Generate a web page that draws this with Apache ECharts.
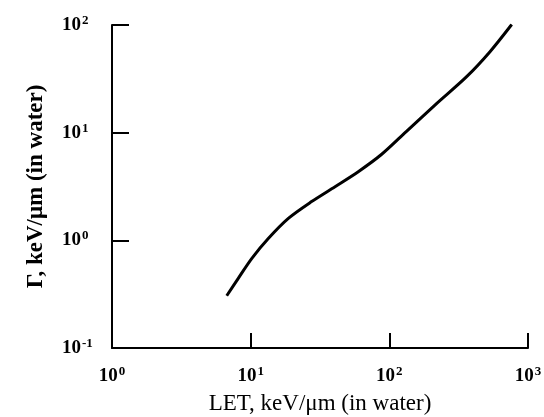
<!DOCTYPE html>
<html>
<head>
<meta charset="utf-8">
<script src="https://cdn.jsdelivr.net/npm/echarts@6/dist/echarts.min.js"></script>
<style>
html, body { margin: 0; padding: 0; background: #fff; }
#main { width: 544px; height: 417px; }
</style>
</head>
<body>
<div id="main"></div>
<script>
var myChart = echarts.init(document.getElementById('main'));

// LET (keV/um) vs Gamma (keV/um)
var letValues = [6.72, 8.14, 10.2, 13.4, 18.7, 27.5, 40.6, 59.7, 88.1, 133, 220, 361, 532, 763];
var gammaValues = [0.306, 0.444, 0.681, 1.04, 1.60, 2.29, 3.15, 4.34, 6.3, 10.3, 18.7, 33.1, 56.5, 101];

var xName = 'LET, keV/\u03bcm (in water)';
var yName = '\u0393, keV/\u03bcm (in water)';

var serif = '"Liberation Serif", "DejaVu Serif", serif';

function powLabel(value) {
    var e = Math.round(Math.log(value) / Math.LN10);
    return '{b|10}{s|' + e + '}';
}

var labelRich = {
    b: { fontFamily: serif, fontSize: 19, fontWeight: 'bold', color: '#000', lineHeight: 22 },
    s: { fontFamily: serif, fontSize: 13, fontWeight: 'bold', color: '#000', verticalAlign: 'top', lineHeight: 22, padding: [0, 0, 10, 1] }
};

option = {
    animation: false,
    backgroundColor: '#fff',
    grid: {
        left: 112,
        right: 16,
        top: 25,
        bottom: 69,
        outerBoundsMode: 'none'
    },
    xAxis: {
        type: 'log',
        logBase: 10,
        min: 1,
        max: 1000,
        name: xName,
        nameLocation: 'middle',
        nameGap: 44,
        nameTextStyle: { fontFamily: serif, fontSize: 23, color: '#000' },
        axisLine: { lineStyle: { color: '#000', width: 2 } },
        axisTick: { inside: true, length: 15, lineStyle: { color: '#000', width: 2 } },
        minorTick: { show: false },
        splitLine: { show: false },
        axisLabel: { margin: 17, formatter: powLabel, rich: labelRich }
    },
    yAxis: {
        type: 'log',
        logBase: 10,
        min: 0.1,
        max: 100,
        name: yName,
        nameLocation: 'middle',
        nameGap: 64,
        nameRotate: 90,
        nameTextStyle: { fontFamily: serif, fontSize: 23, fontWeight: 'bold', color: '#000' },
        axisLine: { lineStyle: { color: '#000', width: 2 } },
        axisTick: { inside: true, length: 17, lineStyle: { color: '#000', width: 2 } },
        minorTick: { show: false },
        splitLine: { show: false },
        axisLabel: { margin: 50, align: 'left', formatter: powLabel, rich: labelRich }
    },
    series: [
        {
            type: 'line',
            data: letValues.map(function (x, i) { return [x, gammaValues[i]]; }),
            smooth: 0.3,
            showSymbol: false,
            lineStyle: { color: '#000', width: 3 }
        }
    ]
};

myChart.setOption(option);
</script>
</body>
</html>
